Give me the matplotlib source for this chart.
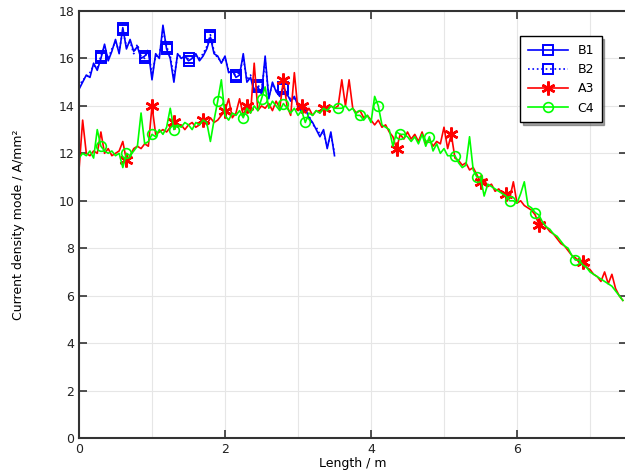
import matplotlib
matplotlib.use("Agg")
import matplotlib.pyplot as plt
from matplotlib.ticker import MultipleLocator
import numpy as np

# sample spacing along the length (m)
step = 0.05

# B1 / B2 : 0 .. 3.5 m
b1_y = [14.7, 15.0, 15.3, 15.2, 15.8, 15.5, 16.0, 16.6, 15.9, 16.3,
        16.8, 16.2, 17.3, 16.4, 16.8, 16.3, 16.5, 16.0, 16.1, 16.3,
        15.1, 16.2, 16.0, 17.4, 16.4, 16.0, 15.0, 16.2, 16.0, 16.1,
        15.9, 16.0, 16.2, 15.9, 16.1, 16.4, 16.9, 16.2, 16.1, 15.8,
        16.1, 15.4, 15.5, 15.2, 15.3, 16.2, 15.0, 15.2, 14.6, 14.8,
        14.5, 16.1, 14.3, 15.0, 14.6, 14.4, 14.8, 14.5, 14.2, 14.4,
        14.0, 13.7, 13.9, 13.5, 13.3, 13.0, 12.7, 13.0, 12.2, 12.9,
        11.9]
b2_y = [14.8, 15.1, 15.2, 15.4, 15.7, 15.6, 16.1, 16.5, 16.0, 16.4,
        16.7, 16.3, 17.2, 16.5, 16.7, 16.2, 16.6, 16.1, 16.0, 16.4,
        15.3, 16.1, 16.1, 17.2, 16.5, 16.1, 15.2, 16.1, 16.1, 16.0,
        16.0, 16.1, 16.1, 16.0, 16.2, 16.5, 17.0, 16.3, 16.0, 15.9,
        16.0, 15.5, 15.4, 15.3, 15.4, 16.0, 15.1, 15.3, 14.7, 14.9,
        14.6, 15.9, 14.4, 14.9, 14.7, 14.5, 14.7, 14.4, 14.3, 14.3,
        14.1, 13.8, 13.8, 13.6, 13.2, 13.1, 12.8, 12.9, 12.3, 12.8,
        12.0]
b_marks = [6, 12, 18, 24, 30, 36, 43, 49, 56]

# A3 : 0 .. 7.45 m
a3_y = [11.3, 13.4, 12.0, 11.9, 12.1, 12.0, 12.9, 12.0, 12.2, 11.9,
        12.0, 12.1, 12.5, 11.7, 11.9, 12.2, 12.3, 12.2, 12.4, 12.3,
        14.0, 12.8, 12.9, 13.0, 12.9, 13.1, 13.3, 13.1, 13.2, 13.0,
        13.2, 13.3, 13.1, 13.2, 13.4, 13.2, 13.5, 13.3, 13.4, 13.6,
        13.8, 14.3, 13.5, 13.7, 14.3, 13.6, 14.0, 13.7, 15.8, 13.8,
        14.0, 13.9, 14.1, 13.8, 14.2, 13.9, 15.1, 14.0, 13.6, 15.4,
        13.8, 14.0, 13.7, 13.9, 13.6, 13.8, 13.7, 13.9, 13.8, 14.0,
        13.9, 14.0, 15.1, 14.0, 15.1, 13.9, 13.7, 13.8, 13.5, 13.6,
        13.4, 13.2, 13.4, 13.1, 13.2, 12.9, 12.7, 12.2, 12.8, 12.6,
        12.9, 12.6, 12.8, 12.5, 12.9, 12.4, 12.6, 12.3, 12.5, 12.4,
        13.1, 12.2, 12.8, 11.8, 11.7, 11.5, 11.6, 11.3, 11.4, 11.1,
        10.8, 10.9, 10.6, 10.7, 10.4, 10.5, 10.3, 10.3, 10.1, 10.8,
        9.9, 10.0, 9.8, 9.7, 9.6, 9.4, 9.0, 9.1, 8.9, 8.7,
        8.6, 8.4, 8.2, 8.1, 7.9, 7.7, 7.6, 7.4, 7.4, 7.2,
        7.1, 6.9, 6.8, 6.6, 7.0, 6.5, 6.9, 6.3, 6.0, 5.8]
a3_marks = [13, 20, 26, 34, 40, 46, 56, 61, 67, 87, 102, 110, 117, 126, 138]

# C4 : 0 .. 7.45 m
c4_y = [11.8, 12.0, 11.9, 12.1, 11.8, 13.0, 12.3, 12.1, 12.0, 12.1,
        11.9, 12.0, 11.4, 12.0, 11.9, 12.1, 12.3, 13.7, 12.4, 12.5,
        12.8, 12.7, 13.0, 12.8, 13.1, 13.9, 13.0, 13.2, 13.1, 13.3,
        13.2, 13.0, 13.3, 13.2, 13.4, 13.3, 12.5, 13.4, 14.2, 15.1,
        13.6, 13.4, 13.7, 13.6, 13.8, 13.5, 13.9, 13.7, 14.0, 13.8,
        14.3, 14.8, 13.9, 14.2, 14.0, 13.8, 14.1, 13.9, 13.7, 13.9,
        13.6, 13.8, 13.3, 13.7, 13.6, 13.8, 13.7, 13.9, 13.8, 14.0,
        13.9, 13.9, 13.9, 14.0, 13.8, 13.9, 13.6, 13.6, 13.4, 13.6,
        13.3, 14.4, 14.0, 13.2, 13.1, 13.0, 12.3, 12.9, 12.8, 12.8,
        12.7, 12.5, 12.7, 12.4, 12.8, 12.3, 12.7, 12.1, 12.4, 12.0,
        12.2, 11.9, 11.9, 11.9, 11.6, 11.4, 11.5, 12.7, 11.3, 11.0,
        11.0, 10.2, 10.7, 10.6, 10.5, 10.4, 10.3, 10.2, 10.0, 10.0,
        9.9, 10.3, 10.8, 9.8, 9.7, 9.5, 9.4, 9.1, 8.9, 8.8,
        8.6, 8.5, 8.3, 8.1, 8.0, 7.7, 7.5, 7.5, 7.3, 7.2,
        7.0, 6.9, 6.8, 6.7, 6.6, 6.5, 6.4, 6.2, 6.0, 5.8]
c4_marks = [6, 13, 20, 26, 38, 45, 50, 56, 62, 71, 77, 82, 88, 96, 103, 109, 118, 125, 136]

b_x = np.arange(len(b1_y)) * step
ac_x = np.arange(len(a3_y)) * step

fig = plt.figure(figsize=(6.25, 4.75), dpi=100)
ax = fig.add_axes([79 / 625, 37 / 475, 547.5 / 625, 427 / 475])

ax.plot(b_x, b1_y, color="#0000ff", lw=1.2, marker="s", ms=7, mfc="none", mew=1.4,
        markevery=b_marks, label="B1")
ax.plot(b_x, b2_y, color="#0000ff", lw=1.2, ls=":", marker="s", ms=7, mfc="none", mew=1.4,
        markevery=b_marks, label="B2")
ax.plot(ac_x, a3_y, color="#ff0000", lw=1.2, marker=(6, 2, 0), ms=10, mew=1.8,
        markevery=a3_marks, label="A3")
ax.plot(ac_x, c4_y, color="#00ff00", lw=1.2, marker="o", ms=7, mfc="none", mew=1.2,
        markevery=c4_marks, label="C4")

ax.set_xlim(0, 7.5)
ax.set_ylim(0, 18)
ax.xaxis.set_major_locator(MultipleLocator(2))
ax.xaxis.set_minor_locator(MultipleLocator(1))
ax.yaxis.set_major_locator(MultipleLocator(2))
ax.grid(True, which="both", color="#e6e6e6", lw=0.8)
ax.set_axisbelow(True)
ax.tick_params(which="major", direction="in", length=6, width=1.2, color="#333333",
               top=True, right=True, labelsize=9, labelcolor="#222222")
ax.tick_params(which="minor", length=0)
for s in ax.spines.values():
    s.set_color("#333333")
    s.set_linewidth(1.5)

ax.set_xlabel("Length / m", fontsize=9, labelpad=1)
ax.set_ylabel("Current density mode / A/mm²", fontsize=9, labelpad=24)

leg = ax.legend(loc="upper right", bbox_to_anchor=(0.966, 0.955), fancybox=False,
                shadow=True, edgecolor="black", framealpha=1, fontsize=9,
                handlelength=3.2, borderpad=0.6, labelspacing=0.5)
leg.get_frame().set_linewidth(1.0)

fig.savefig("out.png", dpi=100)
